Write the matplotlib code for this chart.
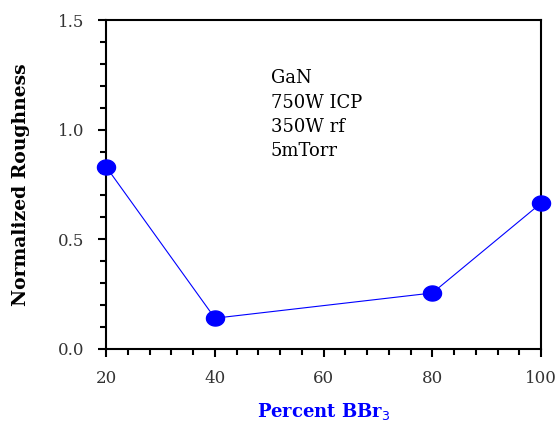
import matplotlib
matplotlib.use("Agg")
import matplotlib.pyplot as plt
import numpy as np
from matplotlib.ticker import MultipleLocator
from matplotlib.path import Path

x_percent = [20, 40, 80, 100]
roughness = [0.83, 0.14, 0.255, 0.665]
annotation_lines = ["GaN", "750W ICP", "350W rf", "5mTorr"]

plt.rcParams['font.family'] = ['DejaVu Serif']

t = np.linspace(0, 2 * np.pi, 60)
ellipse = Path(np.column_stack([1.2 * np.cos(t), np.sin(t)]), closed=True)

fig = plt.figure(figsize=(5.59, 4.26), dpi=100)
ax = fig.add_axes([0.19, 0.181, 0.778, 0.772])

ax.plot(x_percent, roughness, color='#0000ff', lw=0.8, marker=ellipse,
        markersize=13, markerfacecolor='#0000ff', markeredgecolor='#0000ff',
        clip_on=False, zorder=3)

ax.set_xlim(20, 100)
ax.set_ylim(0, 1.5)
ax.xaxis.set_major_locator(MultipleLocator(20))
ax.xaxis.set_minor_locator(MultipleLocator(4))
ax.yaxis.set_major_locator(MultipleLocator(0.5))
ax.yaxis.set_minor_locator(MultipleLocator(0.1))
ax.yaxis.set_major_formatter(matplotlib.ticker.FormatStrFormatter('%.1f'))

for s in ax.spines.values():
    s.set_linewidth(1.5)
ax.tick_params(which='major', direction='out', length=6, width=1.5,
               labelsize=12, labelcolor='#333333')
ax.tick_params(axis='y', which='major', pad=10)
ax.tick_params(axis='x', which='major', pad=9)
ax.tick_params(which='minor', direction='out', length=4, width=1.5)

ax.set_xlabel('Percent BBr$_3$', color='#0000ff', fontweight='bold',
              fontsize=13, labelpad=10)
ax.set_ylabel('Normalized Roughness', color='black', fontweight='bold',
              fontsize=13.5, labelpad=20)

ax.text(0.378, 0.85, "\n".join(annotation_lines), transform=ax.transAxes,
        fontsize=13, va='top', ha='left', linespacing=1.45)

fig.savefig('out.png', dpi=100)
